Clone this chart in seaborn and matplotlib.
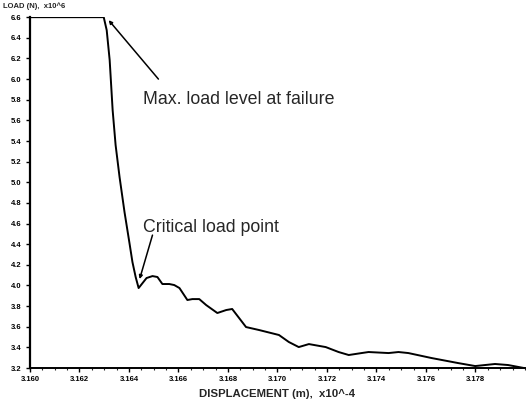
import matplotlib
matplotlib.use("Agg")
import matplotlib.pyplot as plt
import seaborn as sns
import numpy as np
import pandas as pd

# Data (displacement x10^-4 m, load x10^6 N)
displacement = [3.16000, 3.16298, 3.16310, 3.16322, 3.16334, 3.16346, 3.16362,
                3.16382, 3.16402, 3.16414, 3.16427, 3.16439, 3.16471, 3.16495,
                3.16515, 3.16535, 3.16563, 3.16583, 3.16604, 3.16636, 3.16656,
                3.16684, 3.16712, 3.16757, 3.16793, 3.16817, 3.16873, 3.16926,
                3.17006, 3.17046, 3.17086, 3.17127, 3.17195, 3.17247, 3.17288,
                3.17340, 3.17368, 3.17449, 3.17489, 3.17529, 3.17622, 3.17730,
                3.17799, 3.17839, 3.17879, 3.17932, 3.17996]
load = [6.600, 6.600, 6.474, 6.184, 5.699, 5.360, 5.050,
        4.711, 4.411, 4.227, 4.082, 3.975, 4.072, 4.091,
        4.082, 4.014, 4.014, 4.004, 3.975, 3.859, 3.868,
        3.868, 3.810, 3.733, 3.762, 3.772, 3.597, 3.568,
        3.520, 3.452, 3.403, 3.432, 3.403, 3.355, 3.326,
        3.345, 3.355, 3.345, 3.355, 3.345, 3.297, 3.248,
        3.219, 3.229, 3.239, 3.229, 3.200]

xticks = [3.160, 3.162, 3.164, 3.166, 3.168, 3.170, 3.172, 3.174, 3.176, 3.178]
yticks = [3.2, 3.4, 3.6, 3.8, 4.0, 4.2, 4.4, 4.6, 4.8, 5.0, 5.2, 5.4, 5.6, 5.8,
          6.0, 6.2, 6.4, 6.6]

df = pd.DataFrame({"disp": displacement, "load": load})

sns.set_style("ticks")
plt.rcParams["font.family"] = ["Liberation Sans", "DejaVu Sans"]

fig = plt.figure(figsize=(5.26, 4.09), dpi=100)
ax = fig.add_axes([0.057, 0.1002, 0.941, 0.8578])

sns.lineplot(data=df, x="disp", y="load", ax=ax, color="black", linewidth=1.4,
             sort=False, estimator=None)
for ln in ax.lines:
    ln.set_solid_joinstyle("round")

ax.set_xlim(3.160, 3.17996)
ax.set_ylim(3.2, 6.6)
ax.set_xticks(xticks)
ax.set_xticklabels([f"{v:.3f}" for v in xticks], fontsize=5.5, fontweight="bold")
ax.set_yticks(yticks)
ax.set_yticklabels([f"{v:.1f}" for v in yticks], fontsize=5.5, fontweight="bold")
ax.set_xticks(np.arange(3.1605, 3.1800, 0.0005), minor=True)
ax.tick_params(axis="both", which="major", direction="out", length=3, width=1,
               pad=3, colors="black")
ax.tick_params(axis="x", which="minor", direction="out", length=1.5, width=0.8)
ax.set_xlabel("")
ax.set_ylabel("")
for s in ["top", "right"]:
    ax.spines[s].set_visible(False)
ax.spines["left"].set_linewidth(1.6)
ax.spines["bottom"].set_linewidth(1.4)
ax.spines["left"].set_color("black")
ax.spines["bottom"].set_color("black")

fig.text(0.006, 0.985, "LOAD (N),  x10^6", fontsize=5.5, fontweight="bold",
         ha="left", va="center")
fig.text(0.526, 0.037, "DISPLACEMENT (m),  x10^-4", fontsize=8.2, fontweight="bold",
         ha="center", va="center")

ax.text(3.16455, 5.757, "Max. load level at failure", fontsize=12.8,
        ha="left", va="baseline")
ax.annotate("", xy=(3.16318, 6.571), xytext=(3.16519, 6.000),
            arrowprops=dict(arrowstyle="-|>", color="black", lw=1.1,
                            mutation_scale=5, shrinkA=0, shrinkB=0))
ax.text(3.16455, 4.517, "Critical load point", fontsize=12.8,
        ha="left", va="baseline")
ax.annotate("", xy=(3.16443, 4.062), xytext=(3.16495, 4.488),
            arrowprops=dict(arrowstyle="-|>", color="black", lw=1.1,
                            mutation_scale=5, shrinkA=0, shrinkB=0))

fig.savefig("out.png", dpi=100, facecolor="white")
